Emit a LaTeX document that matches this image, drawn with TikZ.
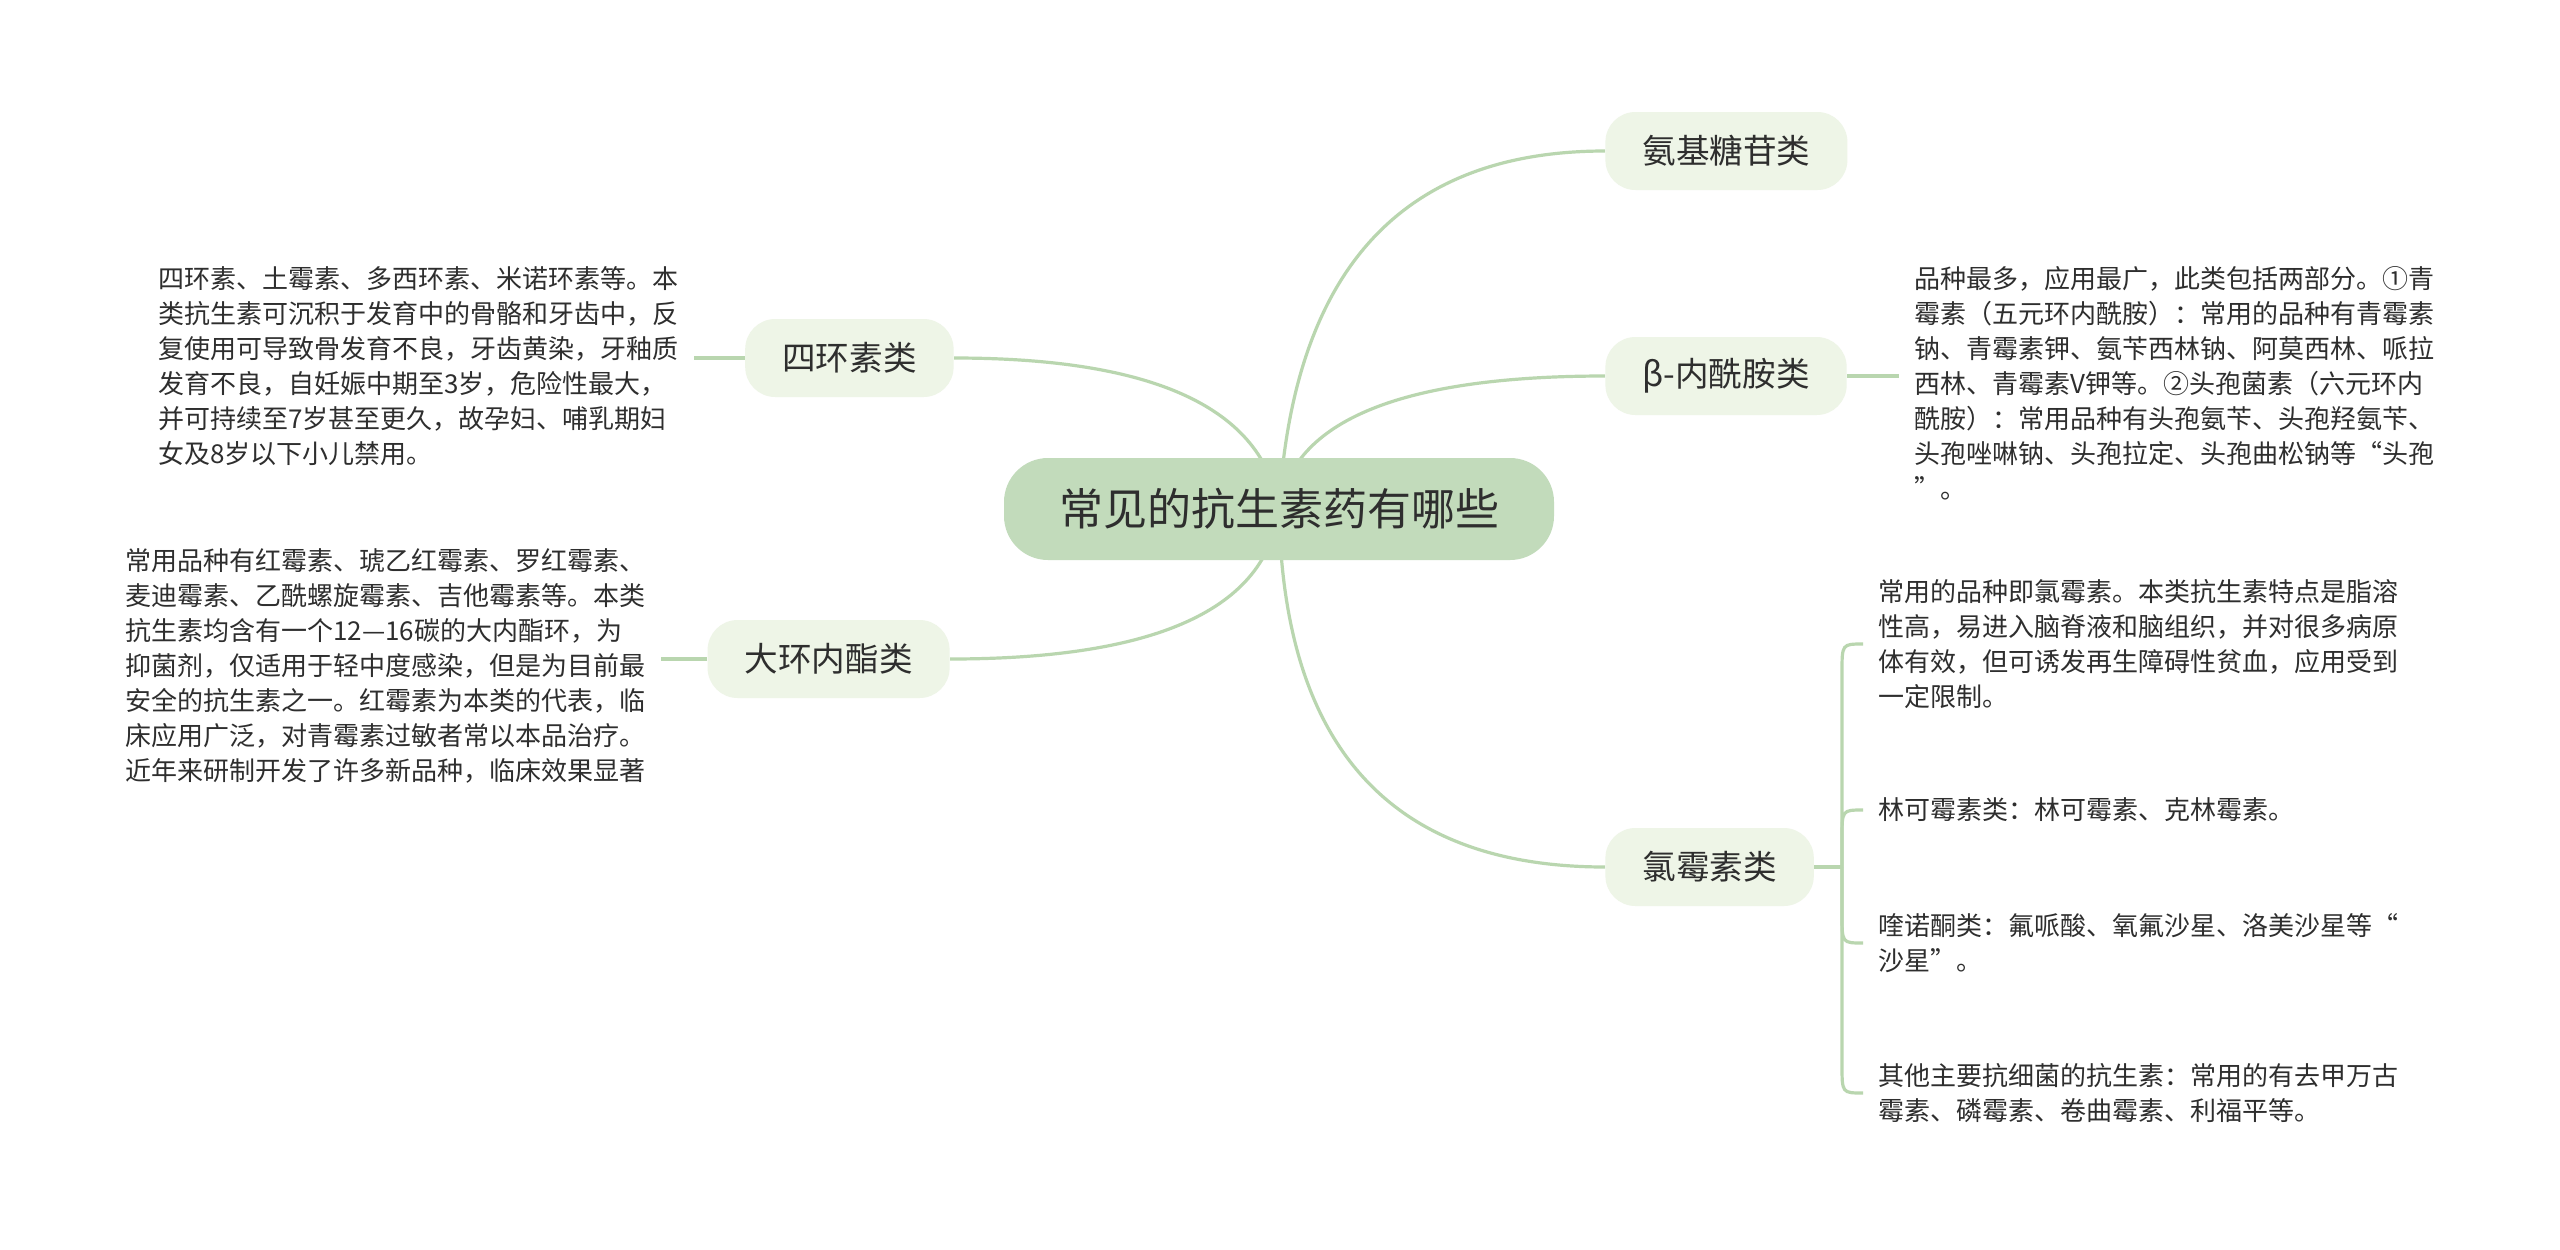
\documentclass[tikz,border=0pt]{standalone}
\usepackage{fontspec}
\setmainfont{Noto Sans CJK SC}
\usetikzlibrary{calc}
\definecolor{lineg}{HTML}{B9D6AF}
\definecolor{rootf}{HTML}{C2DBBB}
\definecolor{subf}{HTML}{EEF5E7}
\definecolor{txt}{HTML}{2E2E2E}
\pgfdeclarelayer{base}
\pgfdeclarelayer{bg}
\pgfsetlayers{base,bg,main}
\begin{document}
\begin{tikzpicture}[x=0.5pt,y=-0.5pt,
  conn/.style={draw=lineg,line width=1.6pt},
  rootnode/.style={fill=rootf,rounded corners=22pt,minimum width=275pt,minimum height=51pt,font=\fontsize{22}{26}\selectfont,text=txt},
  subnode/.style={fill=subf,rounded corners=15pt,inner xsep=18.5pt,minimum height=39pt,font=\fontsize{16.8}{20}\selectfont,text=txt},
  leaf/.style={align=left,inner xsep=7.5pt,inner ysep=2pt,font=\fontsize{13}{17.5}\selectfont,text=txt}]
\begin{pgfonlayer}{base}
\fill[white] (0,0) rectangle (2560,1249);
\end{pgfonlayer}
\useasboundingbox (0,0) rectangle (2560,1249);

% main nodes
\node[rootnode] (root) at (1279,509) {常见的抗生素药有哪些};
\node[subnode,anchor=west] (n1) at (1605,151) {氨基糖苷类};
\node[subnode,anchor=west] (n2) at (1605,376) {β-内酰胺类};
\node[subnode,anchor=west] (n3) at (1605,867) {氯霉素类};
\node[subnode,anchor=east] (n4) at (954,358) {四环素类};
\node[subnode,anchor=east] (n5) at (950,659) {大环内酯类};

% leaves
\node[leaf,anchor=west] (l4) at (143,366) {四环素、土霉素、多西环素、米诺环素等。本\\类抗生素可沉积于发育中的骨骼和牙齿中，反\\复使用可导致骨发育不良，牙齿黄染，牙釉质\\发育不良，自妊娠中期至3岁，危险性最大，\\并可持续至7岁甚至更久，故孕妇、哺乳期妇\\女及8岁以下小儿禁用。};
\node[leaf,anchor=west] (l5) at (110,666) {常用品种有红霉素、琥乙红霉素、罗红霉素、\\麦迪霉素、乙酰螺旋霉素、吉他霉素等。本类\\抗生素均含有一个12—16碳的大内酯环，为\\抑菌剂，仅适用于轻中度感染，但是为目前最\\安全的抗生素之一。红霉素为本类的代表，临\\床应用广泛，对青霉素过敏者常以本品治疗。\\近年来研制开发了许多新品种，临床效果显著};
\node[leaf,anchor=west] (l2) at (1899,383) {品种最多，应用最广，此类包括两部分。①青\\霉素（五元环内酰胺）：常用的品种有青霉素\\钠、青霉素钾、氨苄西林钠、阿莫西林、哌拉\\西林、青霉素V钾等。②头孢菌素（六元环内\\酰胺）：常用品种有头孢氨苄、头孢羟氨苄、\\头孢唑啉钠、头孢拉定、头孢曲松钠等“头孢\\”。};
\node[leaf,anchor=west] (m1) at (1863,644) {常用的品种即氯霉素。本类抗生素特点是脂溶\\性高，易进入脑脊液和脑组织，并对很多病原\\体有效，但可诱发再生障碍性贫血，应用受到\\一定限制。};
\node[leaf,anchor=west] (m2) at (1863,810) {林可霉素类：林可霉素、克林霉素。};
\node[leaf,anchor=west] (m3) at (1863,943) {喹诺酮类：氟哌酸、氧氟沙星、洛美沙星等“\\沙星”。};
\node[leaf,anchor=west] (m4) at (1863,1093) {其他主要抗细菌的抗生素：常用的有去甲万古\\霉素、磷霉素、卷曲霉素、利福平等。};

\coordinate (k1) at (1300,151);
\coordinate (k2) at (1300,376);
\coordinate (k3) at (1285,867);
\coordinate (k4) at (1255,358);
\coordinate (k5) at (1260,659);
\coordinate (stem) at (1842,867);

\begin{pgfonlayer}{bg}
\draw[conn] (root.center) .. controls ($(root.center)!0.667!(k1)$) and ($(n1.west)!0.667!(k1)$) .. (n1.west);
\draw[conn] (root.center) .. controls ($(root.center)!0.667!(k2)$) and ($(n2.west)!0.667!(k2)$) .. (n2.west);
\draw[conn] (root.center) .. controls ($(root.center)!0.667!(k3)$) and ($(n3.west)!0.667!(k3)$) .. (n3.west);
\draw[conn] (root.center) .. controls ($(root.center)!0.667!(k4)$) and ($(n4.east)!0.667!(k4)$) .. (n4.east);
\draw[conn] (root.center) .. controls ($(root.center)!0.667!(k5)$) and ($(n5.east)!0.667!(k5)$) .. (n5.east);
\draw[conn] (n4.west) -- (n4.west -| l4.east);
\draw[conn] (n5.west) -- (n5.west -| l5.east);
\draw[conn] (n2.east) -- (n2.east -| l2.west);
\draw[conn] (n3.east) -- (stem);
\draw[conn] (stem) -- ($(stem |- m1.west)+(0,28)$) .. controls (stem |- m1.west) .. (m1.west);
\draw[conn] (stem) -- ($(stem |- m2.west)+(0,28)$) .. controls (stem |- m2.west) .. (m2.west);
\draw[conn] (stem) -- ($(stem |- m3.west)+(0,-28)$) .. controls (stem |- m3.west) .. (m3.west);
\draw[conn] (stem) -- ($(stem |- m4.west)+(0,-28)$) .. controls (stem |- m4.west) .. (m4.west);
\end{pgfonlayer}
\end{tikzpicture}
\end{document}
